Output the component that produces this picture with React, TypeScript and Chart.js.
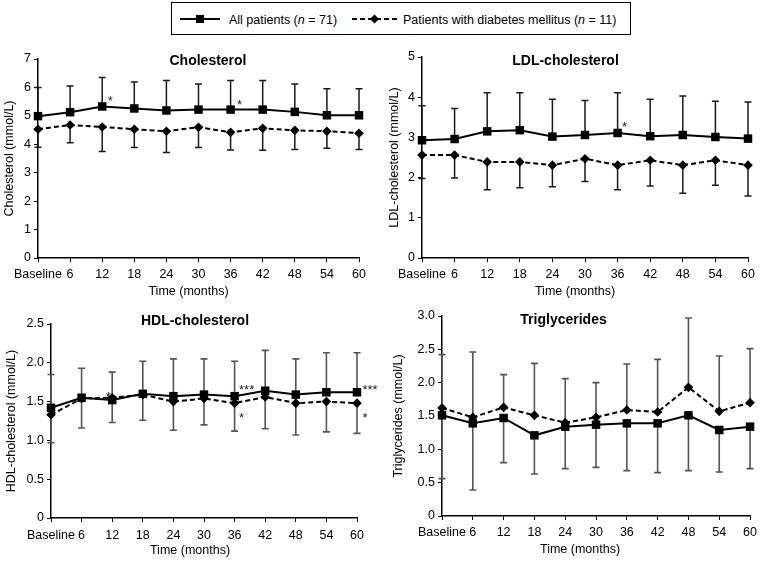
import React, { useEffect, useRef } from "react";
import { Chart, registerables } from "chart.js";

Chart.register(...registerables);

const FONT = "'Liberation Sans', Arial, Helvetica, sans-serif";

// ---------- data ----------
const timeLabels = ["Baseline", "6", "12", "18", "24", "30", "36", "42", "48", "54", "60"];

const allLabel = "All patients (n = 71)";
const dmLabel = "Patients with diabetes mellitus (n = 11)";

// Cholesterol (mmol/L)
const cholAll = [4.99, 5.13, 5.33, 5.26, 5.19, 5.22, 5.22, 5.22, 5.14, 5.02, 5.02];
const cholAllUpper = [6.0, 6.05, 6.35, 6.19, 6.24, 6.12, 6.24, 6.24, 6.12, 5.95, 5.95];
const cholDm = [4.53, 4.68, 4.61, 4.53, 4.46, 4.6, 4.42, 4.56, 4.49, 4.46, 4.39];
const cholDmLower = [3.9, 4.05, 3.75, 3.89, 3.71, 3.89, 3.8, 3.79, 3.82, 3.86, 3.82];
const cholTicksMax = 7;

// LDL-cholesterol (mmol/L)
const ldlAll = [2.93, 2.96, 3.15, 3.18, 3.02, 3.06, 3.11, 3.03, 3.06, 3.01, 2.97];
const ldlAllUpper = [3.79, 3.72, 4.11, 4.11, 3.95, 3.92, 4.11, 3.95, 4.03, 3.9, 3.88];
const ldlDm = [2.56, 2.56, 2.39, 2.39, 2.31, 2.47, 2.31, 2.43, 2.31, 2.43, 2.31];
const ldlDmLower = [1.98, 1.99, 1.7, 1.75, 1.77, 1.9, 1.7, 1.79, 1.61, 1.81, 1.54];
const ldlTicksMax = 5;

// HDL-cholesterol (mmol/L)
const hdlAll = [1.42, 1.55, 1.52, 1.6, 1.57, 1.59, 1.57, 1.64, 1.59, 1.62, 1.62];
const hdlAllUpper = [1.85, 1.93, 1.88, 2.02, 2.05, 2.05, 2.02, 2.16, 2.05, 2.13, 2.13];
const hdlDm = [1.33, 1.54, 1.55, 1.59, 1.5, 1.54, 1.48, 1.56, 1.48, 1.5, 1.48];
const hdlDmLower = [0.97, 1.16, 1.23, 1.26, 1.13, 1.2, 1.12, 1.15, 1.07, 1.11, 1.09];
const hdlTicksMax = 2.5;

// Triglycerides (mmol/L)
const trigAll = [1.51, 1.39, 1.47, 1.21, 1.34, 1.37, 1.39, 1.39, 1.51, 1.29, 1.34];
const trigAllLower = [0.56, 0.39, 0.8, 0.63, 0.71, 0.73, 0.68, 0.65, 0.68, 0.66, 0.71];
const trigDm = [1.62, 1.48, 1.63, 1.51, 1.4, 1.48, 1.59, 1.56, 1.93, 1.57, 1.7];
const trigDmUpper = [2.42, 2.46, 2.12, 2.29, 2.06, 2.0, 2.28, 2.35, 2.97, 2.4, 2.51];
const trigTicksMax = 3.0;

// significance marks: [category index, value where mark sits, text]
const cholSig: [number, number, string][] = [[2, 5.65, "*"], [6, 5.52, "*"]];
const ldlSig: [number, number, string][] = [[6, 3.34, "*"]];
const hdlSig: [number, number, string][] = [
  [2, 1.6, "*"],
  [6, 1.7, "***"],
  [6, 1.33, "*"],
  [10, 1.7, "***"],
  [10, 1.33, "*"],
];
const trigSig: [number, number, string][] = [];

// ---------- panel specs (layout / style only) ----------
type Bar = { values: number[]; ends: number[] };
type Panel = {
  key: string;
  left: number;
  top: number;
  width: number;
  height: number;
  pad: { left: number; right: number; top: number; bottom: number };
  yWidth: number;
  yTitlePad: number;
  xTickPad: number;
  yMax: number;
  yStep: number;
  decimals: number;
  yTitle: string;
  title: string;
  titleDx: number;
  titleDy: number;
  xTitleDx: number;
  xTitleDy: number;
  all: number[];
  dm: number[];
  bars: Bar[];
  barColor: string;
  barWidth: number;
  sig: [number, number, string][];
  sigDx: number[];
};

const panels: Panel[] = [
  {
    key: "chol",
    left: 0, top: 40, width: 375, height: 265,
    pad: { left: 0, right: 16, top: 19, bottom: 17 },
    yWidth: 38, yTitlePad: 2, xTickPad: 5,
    yMax: cholTicksMax, yStep: 1, decimals: 0,
    yTitle: "Cholesterol (mmol/L)",
    title: "Cholesterol", titleDx: 9.5, titleDy: 2.5,
    xTitleDx: -10, xTitleDy: 34,
    all: cholAll, dm: cholDm,
    bars: [{ values: cholAll, ends: cholAllUpper }, { values: cholDm, ends: cholDmLower }],
    barColor: "#1a1a1a", barWidth: 1.5,
    sig: cholSig, sigDx: [8, 9],
  },
  {
    key: "ldl",
    left: 381, top: 40, width: 381, height: 265,
    pad: { left: 0, right: 14, top: 17, bottom: 17 },
    yWidth: 41, yTitlePad: 6.5, xTickPad: 5,
    yMax: ldlTicksMax, yStep: 1, decimals: 0,
    yTitle: "LDL-cholesterol (mmol/L)",
    title: "LDL-cholesterol", titleDx: -19.5, titleDy: 4.5,
    xTitleDx: -10, xTitleDy: 34,
    all: ldlAll, dm: ldlDm,
    bars: [{ values: ldlAll, ends: ldlAllUpper }, { values: ldlDm, ends: ldlDmLower }],
    barColor: "#1a1a1a", barWidth: 1.5,
    sig: ldlSig, sigDx: [7],
  },
  {
    key: "hdl",
    left: 0, top: 300, width: 381, height: 261,
    pad: { left: 0, right: 24, top: 24, bottom: 13 },
    yWidth: 51, yTitlePad: 4.5, xTickPad: 6,
    yMax: hdlTicksMax, yStep: 0.5, decimals: 1,
    yTitle: "HDL-cholesterol (mmol/L)",
    title: "HDL-cholesterol", titleDx: -9, titleDy: -2.5,
    xTitleDx: -14, xTitleDy: 33,
    all: hdlAll, dm: hdlDm,
    bars: [{ values: hdlAll, ends: hdlAllUpper }, { values: hdlDm, ends: hdlDmLower }],
    barColor: "#555555", barWidth: 1.6,
    sig: hdlSig, sigDx: [-4, 12, 7, 13, 8],
  },
  {
    key: "trig",
    left: 381, top: 300, width: 381, height: 261,
    pad: { left: 0, right: 7, top: 16, bottom: 15 },
    yWidth: 61, yTitlePad: 10.5, xTickPad: 5,
    yMax: trigTicksMax, yStep: 0.5, decimals: 1,
    yTitle: "Triglycerides (mmol/L)",
    title: "Triglycerides", titleDx: -32.5, titleDy: 4.5,
    xTitleDx: -16, xTitleDy: 34,
    all: trigAll, dm: trigDm,
    bars: [{ values: trigDm, ends: trigDmUpper }, { values: trigAll, ends: trigAllLower }],
    barColor: "#555555", barWidth: 1.6,
    sig: trigSig, sigDx: [],
  },
];

function makePlugins(p: Panel) {
  const errorBars = {
    id: "errorBars_" + p.key,
    beforeDatasetsDraw(chart: any) {
      const ctx = chart.ctx;
      const xs = chart.scales.x;
      const ys = chart.scales.y;
      ctx.save();
      ctx.strokeStyle = p.barColor;
      ctx.lineWidth = p.barWidth;
      for (const bar of p.bars) {
        bar.values.forEach((v, i) => {
          const x = xs.getPixelForValue(i);
          const y0 = ys.getPixelForValue(v);
          const y1 = ys.getPixelForValue(bar.ends[i]);
          ctx.beginPath();
          ctx.moveTo(x, y0);
          ctx.lineTo(x, y1);
          ctx.moveTo(x - 3.5, y1);
          ctx.lineTo(x + 3.5, y1);
          ctx.stroke();
        });
      }
      ctx.restore();
    },
  };
  const sigMarks = {
    id: "sigMarks_" + p.key,
    afterDatasetsDraw(chart: any) {
      const ctx = chart.ctx;
      const xs = chart.scales.x;
      const ys = chart.scales.y;
      const size = 13;
      ctx.save();
      ctx.fillStyle = "#222";
      ctx.font = `${size}px ${FONT}`;
      ctx.textAlign = "center";
      ctx.textBaseline = "alphabetic";
      p.sig.forEach(([idx, val, txt], k) => {
        const x = xs.getPixelForValue(idx) + (p.sigDx[k] || 0);
        const y = ys.getPixelForValue(val) + size * 0.575;
        ctx.fillText(txt, x, y);
      });
      ctx.restore();
    },
  };
  const panelText = {
    id: "panelText_" + p.key,
    afterDraw(chart: any) {
      const ctx = chart.ctx;
      const a = chart.chartArea;
      const cx = (a.left + a.right) / 2;
      ctx.save();
      ctx.fillStyle = "#000";
      ctx.textAlign = "center";
      ctx.textBaseline = "middle";
      ctx.font = `bold 14px ${FONT}`;
      ctx.fillText(p.title, cx + p.titleDx, a.top + p.titleDy);
      ctx.font = `12.5px ${FONT}`;
      ctx.fillText("Time (months)", cx + p.xTitleDx, a.bottom + p.xTitleDy);
      ctx.restore();
    },
  };
  return [errorBars, sigMarks, panelText];
}

function PanelChart({ p }: { p: Panel }) {
  const ref = useRef<HTMLCanvasElement | null>(null);
  useEffect(() => {
    if (!ref.current) return;
    const gridOpts = {
      display: true,
      drawOnChartArea: false,
      drawTicks: true,
      tickLength: 4,
      color: "#000",
      lineWidth: 1,
    };
    const chart = new Chart(ref.current, {
      type: "line",
      data: {
        labels: timeLabels,
        datasets: [
          {
            label: allLabel,
            data: p.all,
            borderColor: "#000",
            backgroundColor: "#000",
            borderWidth: 2,
            pointStyle: "rect",
            pointRadius: 6,
            pointBackgroundColor: "#000",
            pointBorderColor: "#000",
            pointBorderWidth: 0,
            tension: 0,
            clip: false as any,
          },
          {
            label: dmLabel,
            data: p.dm,
            borderColor: "#000",
            backgroundColor: "#000",
            borderWidth: 2,
            borderDash: [5, 3],
            pointStyle: "rectRot",
            pointRadius: 4.8,
            pointBackgroundColor: "#000",
            pointBorderColor: "#000",
            pointBorderWidth: 0,
            tension: 0,
            clip: false as any,
          },
        ],
      },
      options: {
        responsive: false,
        animation: false,
        devicePixelRatio: window.devicePixelRatio || 1,
        layout: { padding: p.pad },
        plugins: {
          legend: { display: false },
          tooltip: { enabled: false },
          title: { display: false },
        },
        scales: {
          x: {
            type: "category",
            offset: false,
            grid: { ...gridOpts, offset: false },
            border: { display: true, color: "#000", width: 1.5 },
            ticks: {
              color: "#000",
              font: { family: FONT, size: 12.5 },
              padding: p.xTickPad,
              autoSkip: false,
              maxRotation: 0,
              minRotation: 0,
            },
            afterFit: (s: any) => {
              s.height = 30;
            },
          },
          y: {
            type: "linear",
            min: 0,
            max: p.yMax,
            grid: gridOpts,
            border: { display: true, color: "#000", width: 1.5 },
            ticks: {
              stepSize: p.yStep,
              color: "#000",
              font: { family: FONT, size: 12.5 },
              padding: 3,
              callback: (v: any) => {
                const n = Number(v);
                if (n === 0) return "0";
                return n.toFixed(p.decimals);
              },
            },
            title: {
              display: true,
              text: p.yTitle,
              color: "#000",
              font: { family: FONT, size: 12.5 },
              padding: { top: p.yTitlePad, bottom: 0 },
            },
            afterFit: (s: any) => {
              s.width = p.yWidth;
            },
          },
        },
      } as any,
      plugins: makePlugins(p) as any,
    });
    return () => chart.destroy();
  }, [p]);
  return (
    <canvas
      ref={ref}
      width={p.width}
      height={p.height}
      style={{ position: "absolute", left: p.left, top: p.top, width: p.width, height: p.height }}
    />
  );
}

function Legend() {
  const textStyle: React.CSSProperties = {
    position: "absolute",
    top: 9,
    height: 16,
    lineHeight: "16px",
    fontSize: 12.5,
    fontFamily: FONT,
    color: "#000",
    whiteSpace: "nowrap",
  };
  return (
    <div
      style={{
        position: "absolute",
        left: 171,
        top: 2,
        width: 460,
        height: 33,
        border: "1.5px solid #000",
        boxSizing: "border-box",
        background: "#fff",
      }}
    >
      <svg style={{ position: "absolute", left: 8, top: 10 }} width={42} height={12}>
        <line x1={0} y1={6} x2={40} y2={6} stroke="#000" strokeWidth={2} />
        <rect x={16} y={2} width={8} height={8} fill="#000" />
      </svg>
      <span style={{ ...textStyle, left: 57 }}>
        All patients (<i>n</i> = 71)
      </span>
      <svg style={{ position: "absolute", left: 180, top: 10 }} width={47} height={12}>
        <line x1={0} y1={6} x2={45} y2={6} stroke="#000" strokeWidth={2} strokeDasharray="5,3" />
        <polygon points="22.5,1.5 27,6 22.5,10.5 18,6" fill="#000" />
      </svg>
      <span style={{ ...textStyle, left: 231 }}>
        Patients with diabetes mellitus (<i>n</i> = 11)
      </span>
    </div>
  );
}

export default function App() {
  return (
    <div
      style={{
        position: "absolute",
        left: 0,
        top: 0,
        width: 762,
        height: 561,
        background: "#fff",
        overflow: "hidden",
      }}
    >
      {panels.map((p) => (
        <PanelChart key={p.key} p={p} />
      ))}
      <Legend />
    </div>
  );
}
